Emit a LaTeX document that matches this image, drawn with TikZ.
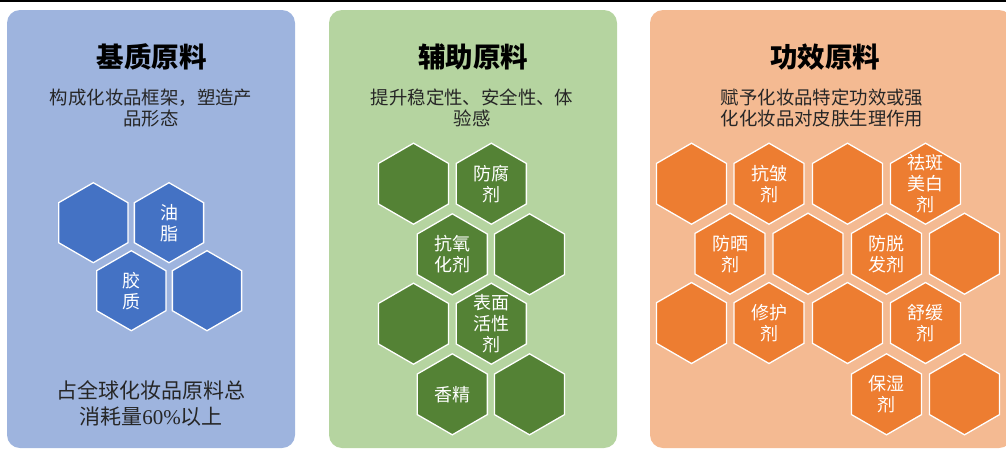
\documentclass[tikz,border=0pt]{standalone}
\usepackage{fontspec}
\setmainfont{Noto Sans CJK SC}
\newfontfamily\digitfont{Liberation Serif}
\usetikzlibrary{shapes.geometric}
\definecolor{bluebg}{RGB}{158,180,222}
\definecolor{bluehex}{RGB}{68,114,196}
\definecolor{greenbg}{RGB}{181,212,160}
\definecolor{greenhex}{RGB}{84,130,53}
\definecolor{orangebg}{RGB}{244,186,146}
\definecolor{orangehex}{RGB}{237,125,49}
\begin{document}
\begin{tikzpicture}[x=1pt,y=-1pt,
  panel/.style={draw=none, rounded corners=13pt, minimum width=288pt, minimum height=438pt, inner sep=0pt},
  hex/.style={regular polygon, regular polygon sides=6, shape border rotate=30, minimum size=81pt, inner sep=0pt, draw=white, line width=1.3pt},
  hexlabel/.style={text=white, align=center, inner sep=0pt, font=\fontsize{18}{21}\selectfont},
  title/.style={font=\fontsize{27.5}{31}\selectfont\bfseries, text=black},
  subtitle/.style={align=center, text=black!85, font=\fontsize{18.4}{20.5}\selectfont},
]
\useasboundingbox (0,0) rectangle (1006,450);
\clip (0,0) rectangle (1006,450);
\draw[line width=1.6pt] (0,0.8) -- (1006,0.8);

% panels
\node[panel, fill=bluebg] (p1) at (151,229) {};
\node[panel, fill=greenbg] (p2) at (473,229) {};
\node[panel, fill=orangebg, minimum width=362pt] (p3) at (831,229) {};

% titles
\node[title] (t1) at (151.7,57) {基质原料};
\node[title] (t2) at (473.3,57) {辅助原料};
\node[title] (t3) at (825,57) {功效原料};

\node[subtitle] (s1) at (151,108) {构成化妆品框架，塑造产\\品形态};
\node[subtitle] (s2) at (472,108) {提升稳定性、安全性、体\\验感};
\node[subtitle] (s3) at (822,108) {赋予化妆品特定功效或强\\化化妆品对皮肤生理作用};

\node[align=center, text=black!85, font=\fontsize{21}{25.5}\selectfont] (b1) at (151,403.5) {占全球化妆品原料总\\消耗量{\digitfont 60\%}以上};

% panel 1 hexagons
\begin{scope}[hex/.append style={fill=bluehex, minimum size=80pt}]
\node[hex] (a1) at (93.3,222.7) {};
\node[hex] (a2) at (169,222.7) {};
\node[hex] (a3) at (131.3,290.7) {};
\node[hex] (a4) at (207,290.7) {};
\end{scope}
\node[hexlabel] (la2) at (a2) {油\\脂};
\node[hexlabel] (la3) at (a3) {胶\\质};

% panel 2 hexagons
\begin{scope}[hex/.append style={fill=greenhex}]
\node[hex] (b1h) at (413.5,183.7) {};
\node[hex] (b2h) at (491.3,183.7) {};
\node[hex] (b3h) at (452.3,254.3) {};
\node[hex] (b4h) at (529.5,254.3) {};
\node[hex] (b5h) at (413.5,323.7) {};
\node[hex] (b6h) at (491.3,323.7) {};
\node[hex] (b7h) at (452.3,394.3) {};
\node[hex] (b8h) at (529.5,394.3) {};
\end{scope}
\node[hexlabel] (lb2) at (b2h) {防腐\\剂};
\node[hexlabel] (lb3) at (b3h) {抗氧\\化剂};
\node[hexlabel] (lb6) at (b6h) {表面\\活性\\剂};
\node[hexlabel] (lb7) at (b7h) {香精};

% panel 3 hexagons
\begin{scope}[hex/.append style={fill=orangehex}]
\node[hex] (c1) at (691.5,183.7) {};
\node[hex] (c2) at (769,183.7) {};
\node[hex] (c3) at (847.5,183.7) {};
\node[hex] (c4) at (925.5,183.7) {};
\node[hex] (c5) at (730,253.7) {};
\node[hex] (c6) at (808,253.7) {};
\node[hex] (c7) at (886.5,253.7) {};
\node[hex] (c8) at (964.5,253.7) {};
\node[hex] (c9) at (691.5,323) {};
\node[hex] (c10) at (769,323) {};
\node[hex] (c11) at (847.5,323) {};
\node[hex] (c12) at (925.5,323) {};
\node[hex] (c13) at (886.5,394.3) {};
\node[hex] (c14) at (964.5,394.3) {};
\end{scope}
\node[hexlabel] (lc2) at (c2) {抗皱\\剂};
\node[hexlabel] (lc4) at (c4) {祛斑\\美白\\剂};
\node[hexlabel] (lc5) at (c5) {防晒\\剂};
\node[hexlabel] (lc7) at (c7) {防脱\\发剂};
\node[hexlabel] (lc10) at (c10) {修护\\剂};
\node[hexlabel] (lc12) at (c12) {舒缓\\剂};
\node[hexlabel] (lc13) at (c13) {保湿\\剂};
\end{tikzpicture}
\end{document}
